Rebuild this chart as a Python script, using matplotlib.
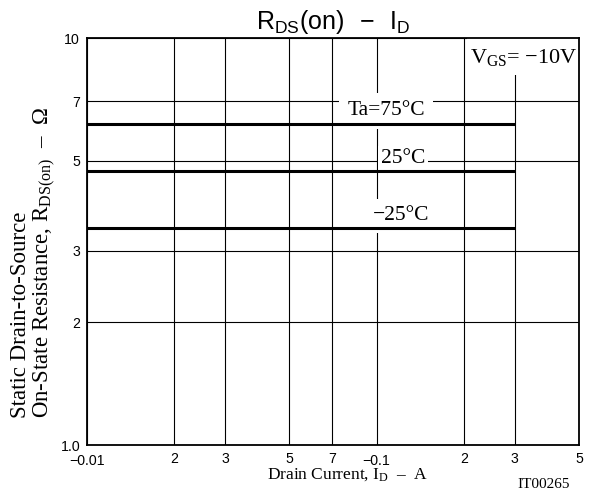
import matplotlib
matplotlib.use('Agg')
import matplotlib.pyplot as plt
from matplotlib.patches import Rectangle

plt.rcParams['mathtext.fontset'] = 'custom'
plt.rcParams['mathtext.rm'] = 'Liberation Serif'
plt.rcParams['mathtext.sf'] = 'Liberation Sans'
plt.rcParams['mathtext.it'] = 'Liberation Serif:italic'

# drain current magnitude (A) and on-resistance (ohm) per ambient temperature
drain_current = [0.01, 0.3]
rds_75 = [6.15, 6.15]
rds_25 = [4.71, 4.71]
rds_m25 = [3.41, 3.41]

curve_labels = ['Ta=75°C', '25°C', '−25°C']

x_ticks = [0.01, 0.02, 0.03, 0.05, 0.07, 0.1, 0.2, 0.3, 0.5]
x_ticklabels = ['−0.01', '2', '3', '5', '7', '−0.1', '2', '3', '5']
y_ticks = [1, 2, 3, 5, 7, 10]
y_ticklabels = ['1.0', '2', '3', '5', '7', '10']

sans = 'Liberation Sans'
serif = 'Liberation Serif'

fig = plt.figure(figsize=(5.93, 4.94), dpi=100)
ax = fig.add_axes([87 / 593, 1 - 445 / 494, (579 - 87) / 593, (445 - 38) / 494])

ax.set_xscale('log')
ax.set_yscale('log')
ax.set_xlim(0.01, 0.5)
ax.set_ylim(1, 10)

ax.set_xticks(x_ticks, x_ticklabels, fontfamily=sans, fontsize=10.2)
ax.set_yticks(y_ticks, y_ticklabels, fontfamily=sans, fontsize=10.2)
ax.minorticks_off()
ax.tick_params(length=0)
ax.tick_params(axis='x', pad=5)
ax.tick_params(axis='y', pad=5)
for lbl in ax.get_xticklabels():
    if lbl.get_text().startswith('−'):
        lbl.set_y(-0.004)

ax.set_axisbelow(True)
ax.grid(True, color='black', linewidth=0.8)
for sp in ax.spines.values():
    sp.set_linewidth(1.3)
    sp.set_zorder(5)

for rds in (rds_75, rds_25, rds_m25):
    ax.plot(drain_current, rds, color='black', linewidth=2.2, solid_capstyle='butt', zorder=4.5)

ax.text(0.1078, 6.62, curve_labels[0], fontfamily=serif, fontsize=15.5,
        ha='center', va='center', zorder=4,
        bbox=dict(boxstyle='square,pad=0.4', facecolor='white', edgecolor='none'))
ax.text(0.1234, 5.06, curve_labels[1], fontfamily=serif, fontsize=15.5,
        ha='center', va='center', zorder=4,
        bbox=dict(boxstyle='square,pad=0.12', facecolor='white', edgecolor='none'))
ax.text(0.1214, 3.66, curve_labels[2], fontfamily=serif, fontsize=15.5,
        ha='center', va='center', zorder=4,
        bbox=dict(boxstyle='square,pad=0.35', facecolor='white', edgecolor='none'))

# white field behind the gate-voltage note
ax.add_patch(Rectangle((0.2045, 8.1), 0.5 - 0.2045, 10 - 8.1, facecolor='white',
                       edgecolor='none', zorder=1.5))
ax.text(0.322, 8.95, r'V$_{\mathrm{GS}}$= −10V', fontfamily=serif, fontsize=16,
        ha='center', va='center', zorder=4)

fig.text(333 / 593, 1 - 22 / 494, r'$\mathsf{R_{DS}(on)\ \ -\ \ I_D}$', fontsize=18,
         ha='center', va='center')
fig.text(348 / 593, 1 - 479 / 494, r'Drain Current, I$_{\mathrm{D}}$  –  A',
         fontfamily=serif, fontsize=12.5, ha='center', va='baseline')
fig.text(34 / 593, 1 - 418 / 494,
         'Static Drain-to-Source\nOn-State Resistance, R$_{\\mathrm{DS(on)}}$  –  Ω',
         fontfamily=serif, fontsize=16.5, rotation=90, ha='center', va='bottom',
         multialignment='left', linespacing=1.0)
fig.text(544 / 593, 1 - 484 / 494, 'IT00265', fontfamily=serif, fontsize=11,
         ha='center', va='center')

fig.savefig('out.png', dpi=100)
